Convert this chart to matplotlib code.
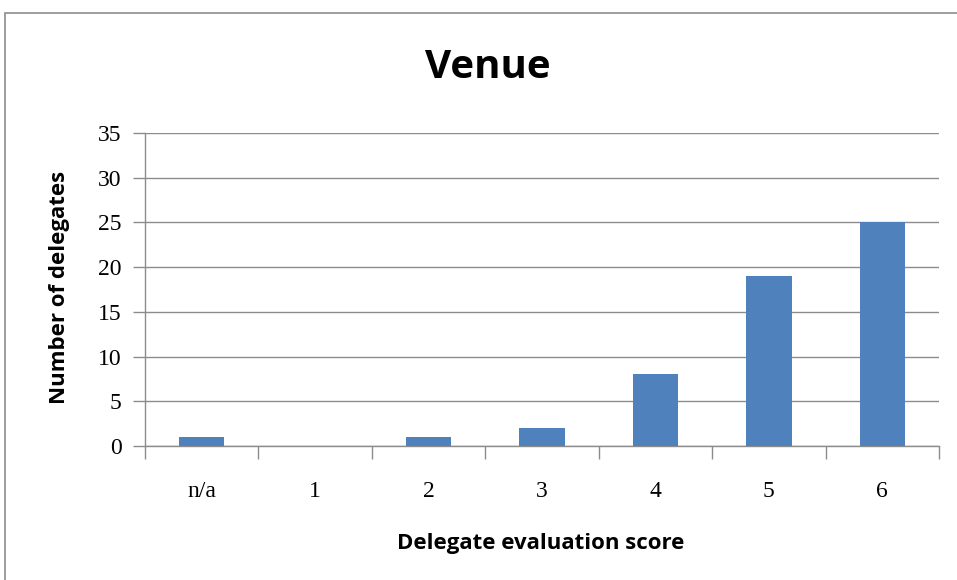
import matplotlib
matplotlib.use("Agg")
import matplotlib.pyplot as plt
from matplotlib.patches import Rectangle
import numpy as np

categories = ["n/a", "1", "2", "3", "4", "5", "6"]
values = [1, 0, 1, 2, 8, 19, 25]
yticks = [0, 5, 10, 15, 20, 25, 30, 35]

W, H = 957, 580
fig = plt.figure(figsize=(W / 100, H / 100), dpi=100)
fig.patch.set_facecolor("white")

# outer chart border
fig.add_artist(Rectangle((5 / W, -0.02), 1.1, 1 - 13 / H + 0.02,
                         transform=fig.transFigure, fill=False,
                         edgecolor="#8c8c8c", linewidth=1.2))

left, right, top, bottom = 145, 939, 133, 446
ax = fig.add_axes([left / W, 1 - bottom / H, (right - left) / W, (bottom - top) / H])

x = np.arange(len(categories))
ax.bar(x, values, width=0.4, color="#4F81BD", zorder=3)

ax.set_xlim(-0.5, len(categories) - 0.5)
ax.set_ylim(0, 35)
ax.set_yticks(yticks)
ax.set_yticklabels([str(v) for v in yticks], family="Liberation Serif", fontsize=17)
ax.set_xticks(x)
ax.set_xticklabels(categories, family="Liberation Serif", fontsize=17)
ax.tick_params(axis="x", length=0, pad=25)
ax.set_xticks(np.arange(-0.5, len(categories)), minor=True)
ax.tick_params(axis="x", which="minor", length=9, direction="out", color="#8c8c8c", width=1)
ax.tick_params(axis="y", length=9, direction="out", color="#8c8c8c", width=1, pad=8)

ax.grid(axis="y", color="#8c8c8c", linewidth=1, zorder=0)
for s in ["top", "right"]:
    ax.spines[s].set_visible(False)
for s in ["left", "bottom"]:
    ax.spines[s].set_color("#8c8c8c")
    ax.spines[s].set_linewidth(1)

fig.text(488 / W, 1 - 67 / H, "Venue", ha="center", va="center",
         family="Open Sans", fontweight="bold", fontsize=29)
fig.text(541 / W, 1 - 543 / H, "Delegate evaluation score", ha="center", va="center",
         family="Open Sans", fontweight="bold", fontsize=16)
fig.text(60 / W, 1 - 287 / H, "Number of delegates", ha="center", va="center",
         rotation=90, family="Open Sans", fontweight="bold", fontsize=16)

fig.savefig("out.png", dpi=100)
